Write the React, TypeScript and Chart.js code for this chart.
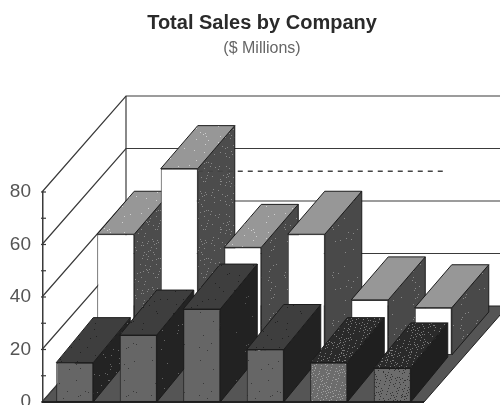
import React, { useEffect, useRef } from "react";
import { Chart, registerables } from "chart.js";

Chart.register(...registerables);

const companies = ["A", "B", "C", "D", "E", "F"];
const frontRow = [15, 25.5, 35.4, 20, 15, 13];
const backRow = [46, 71, 41, 46, 21, 18];
const yearTicksMax = 80;
const dashedValue = 70;
const titleText = "Total Sales by Company";
const subtitleText = "($ Millions)";

// projection of the 3D box
const WALL_DX = 84;
const WALL_DY = 96;
const BAR_DX = 37;
const ROW_DX = 41;
const ROW_DY = 47;

type Spec = { base: string; dot: string; n: number };
function speckle(spec: Spec, seed: number): CanvasPattern | string {
  const c = document.createElement("canvas");
  c.width = 48;
  c.height = 48;
  const g = c.getContext("2d");
  if (!g) return spec.base;
  g.fillStyle = spec.base;
  g.fillRect(0, 0, 48, 48);
  g.fillStyle = spec.dot;
  let s = seed;
  for (let i = 0; i < spec.n; i++) {
    s = (s * 1103515245 + 12345) & 0x7fffffff;
    const px = (s >> 8) % 48;
    s = (s * 1103515245 + 12345) & 0x7fffffff;
    const py = (s >> 8) % 48;
    g.fillRect(px, py, 1, 1);
  }
  return g.createPattern(c, "repeat") || spec.base;
}

function poly(ctx: CanvasRenderingContext2D, pts: number[][], fill: any, stroke = "#1c1c1c") {
  ctx.beginPath();
  pts.forEach((p, i) => (i ? ctx.lineTo(p[0], p[1]) : ctx.moveTo(p[0], p[1])));
  ctx.closePath();
  ctx.fillStyle = fill;
  ctx.fill();
  ctx.strokeStyle = stroke;
  ctx.lineWidth = 1;
  ctx.stroke();
}

export default function App() {
  const ref = useRef<HTMLCanvasElement>(null);
  useEffect(() => {
    if (!ref.current) return;
    const frontSides = [
      speckle({ base: "#232323", dot: "#666", n: 50 }, 3),
      speckle({ base: "#232323", dot: "#666", n: 16 }, 5),
      speckle({ base: "#222222", dot: "#555", n: 8 }, 7),
      "#222222",
      "#1f1f1f",
      "#1f1f1f",
    ];
    const darkTop = speckle({ base: "#3e3e3e", dot: "#222", n: 20 }, 11);
    const noisyTop = speckle({ base: "#2a2a2a", dot: "#7a7a7a", n: 380 }, 13);
    const frontTops = [darkTop, darkTop, darkTop, darkTop, noisyTop, noisyTop];
    const midFront = speckle({ base: "#666666", dot: "#3a3a3a", n: 14 }, 17);
    const noisyFront = speckle({ base: "#6c6c6c", dot: "#a0a0a0", n: 560 }, 19);
    const noisyFront2 = speckle({ base: "#6c6c6c", dot: "#333333", n: 380 }, 23);
    const frontFaces = [midFront, midFront, midFront, midFront, noisyFront, noisyFront2];
    const busySide = speckle({ base: "#4c4c4c", dot: "#888", n: 110 }, 29);
    const calmSide = speckle({ base: "#494949", dot: "#888", n: 30 }, 31);
    const backSides = [busySide, busySide, calmSide, calmSide, calmSide, calmSide];
    const lightTop = speckle({ base: "#979797", dot: "#d0d0d0", n: 22 }, 37);
    const backTops = [lightTop, lightTop, lightTop, "#979797", "#979797", "#979797"];

    const faces = [
      { side: frontSides, top: frontTops, dx: 0, dy: 0, depth: 45 },
      { side: backSides, top: backTops, dx: ROW_DX, dy: -ROW_DY, depth: 43 },
    ];

    const box3d = {
      id: "box3d",
      afterLayout(chart: any) {
        // the heading is centred on the plot with its depth, not on the canvas
        chart.boxes.forEach((b: any) => {
          if (b.options && b.options.text !== undefined) {
            b.left = 24;
            b.right = 500;
          }
        });
      },
      beforeDatasetsDraw(chart: any) {
        const ctx = chart.ctx as CanvasRenderingContext2D;
        const { x, y } = chart.scales;
        const left = x.left - 1;
        const front = x.right;
        const zero = y.getPixelForValue(0);
        ctx.save();
        // floor
        poly(
          ctx,
          [
            [left, zero],
            [left + WALL_DX, zero - WALL_DY],
            [front + WALL_DX, zero - WALL_DY],
            [front, zero],
          ],
          "#555555",
          "#222"
        );
        // walls
        ctx.strokeStyle = "#3a3a3a";
        ctx.lineWidth = 1.2;
        y.ticks.forEach((t: any) => {
          const py = y.getPixelForValue(t.value);
          ctx.beginPath();
          ctx.moveTo(left, py);
          ctx.lineTo(left + WALL_DX, py - WALL_DY);
          if (t.value > 0) ctx.lineTo(chart.width, py - WALL_DY);
          ctx.stroke();
        });
        ctx.beginPath();
        ctx.moveTo(left + WALL_DX, y.getPixelForValue(yearTicksMax) - WALL_DY);
        ctx.lineTo(left + WALL_DX, zero - WALL_DY);
        ctx.stroke();
        // minor ticks of the value axis
        for (let v = 0; v <= yearTicksMax; v += 10) {
          const py = y.getPixelForValue(v);
          ctx.beginPath();
          ctx.moveTo(left - 1, py);
          ctx.lineTo(left + 4, py);
          ctx.stroke();
        }
        // front edge
        ctx.beginPath();
        ctx.moveTo(left, zero);
        ctx.lineTo(front, zero);
        ctx.lineWidth = 2;
        ctx.strokeStyle = "#222";
        ctx.stroke();
        ctx.restore();
      },
      beforeDatasetDraw(chart: any, args: any) {
        const ctx = chart.ctx as CanvasRenderingContext2D;
        const f = faces[args.index];
        ctx.save();
        ctx.translate(f.dx, f.dy);
        args.meta.data.forEach((el: any, i: number) => {
          const { x, y, base, width } = el.getProps(["x", "y", "base", "width"], true);
          const l = x - width / 2;
          const r = x + width / 2;
          poly(ctx, [[r, y], [r + BAR_DX, y - f.depth], [r + BAR_DX, base - f.depth], [r, base]], f.side[i]);
          poly(ctx, [[l, y], [l + BAR_DX, y - f.depth], [r + BAR_DX, y - f.depth], [r, y]], f.top[i]);
          el.draw(ctx);
        });
        ctx.restore();
        if (args.index === 1) {
          const py = chart.scales.y.getPixelForValue(dashedValue) - ROW_DY;
          const last = args.meta.data[args.meta.data.length - 1];
          const second = args.meta.data[1];
          ctx.save();
          ctx.strokeStyle = "#444";
          ctx.lineWidth = 1.6;
          ctx.setLineDash([5, 5]);
          ctx.beginPath();
          ctx.moveTo(second.x + second.width / 2 + ROW_DX, py);
          ctx.lineTo(last.x + ROW_DX + 14, py);
          ctx.stroke();
          ctx.restore();
        }
        return false;
      },
    };

    const chart = new Chart(ref.current, {
      type: "bar",
      plugins: [box3d],
      data: {
        labels: companies,
        datasets: [
          {
            label: "Front",
            data: frontRow,
            backgroundColor: frontFaces,
            borderColor: "#1c1c1c",
            borderWidth: 1,
            borderSkipped: false,
            grouped: false,
            categoryPercentage: 0.583,
            barPercentage: 1,
          },
          {
            label: "Back",
            data: backRow,
            backgroundColor: "#ffffff",
            borderColor: "#333",
            borderWidth: 1,
            borderSkipped: false,
            grouped: false,
            categoryPercentage: 0.583,
            barPercentage: 1,
          },
        ],
      } as any,
      options: {
        responsive: false,
        animation: false,
        layout: { padding: { left: 0, right: 76, top: 0, bottom: 3 } },
        plugins: {
          legend: { display: false },
          tooltip: { enabled: false },
          title: {
            display: true,
            text: titleText,
            color: "#2a2a2a",
            font: { family: "Liberation Sans", size: 20, weight: "bold", lineHeight: 1 },
            padding: { top: 13, bottom: 0 },
          },
          subtitle: {
            display: true,
            text: subtitleText,
            color: "#666",
            font: { family: "Liberation Sans", size: 16, weight: "normal", lineHeight: 1 },
            padding: { top: 8, bottom: 135 },
          },
        },
        scales: {
          x: { display: false },
          y: {
            min: 0,
            max: yearTicksMax,
            afterFit: (s: any) => {
              s.width = 43;
              s.paddingTop = 0;
              s.paddingBottom = 0;
            },
            grid: { display: false },
            border: { display: true, color: "#3a3a3a", width: 1.5 },
            ticks: {
              stepSize: 20,
              color: "#555",
              padding: 4,
              font: { family: "Liberation Sans", size: 19 },
            },
          },
        },
      } as any,
    });
    return () => chart.destroy();
  }, []);
  return (
    <div style={{ position: "fixed", left: 0, top: 0, width: 500, height: 405, overflow: "hidden", background: "#fff" }}>
      <canvas ref={ref} width={500} height={405} style={{ display: "block", filter: "blur(0.5px)" }} />
    </div>
  );
}
